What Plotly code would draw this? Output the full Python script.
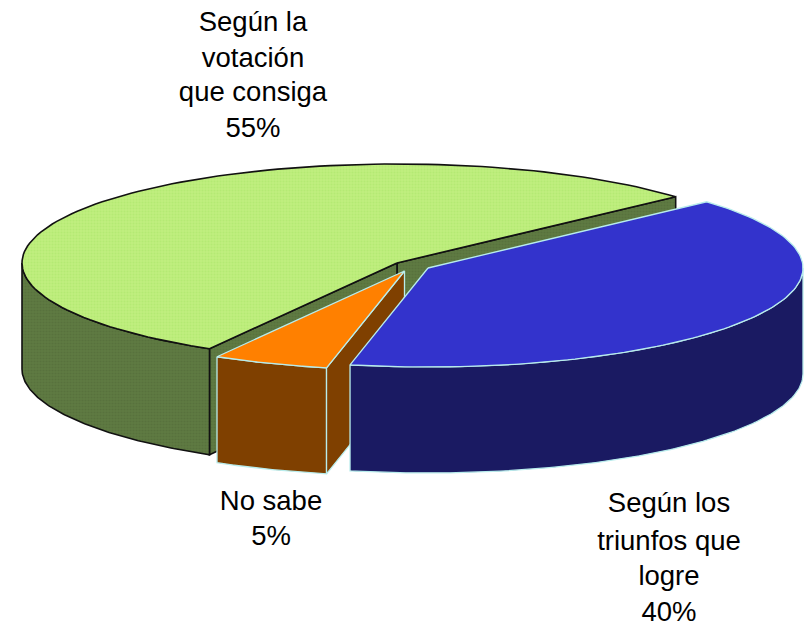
import numpy as np
import plotly.graph_objects as go

categories = ["Según la votación que consiga", "No sabe", "Según los triunfos que logre"]
values = [55, 5, 40]
label_lines = [
    ["Según la", "votación", "que consiga", "55%"],
    ["No sabe", "5%"],
    ["Según los", "triunfos que", "logre", "40%"],
]

# Layout of the drawing (pixel space of the page)
WIDTH, HEIGHT = 804, 623
RX, RY, DEPTH = 375, 99, 106
START_DEG = 42
APEX = [(397, 263), (404.5, 271), (428, 268)]
LABEL_X = [253, 271, 669]
LABEL_Y = [[24, 60, 94, 130], [503, 538], [505, 543, 578, 614]]
TOP = ["#bcec7a", "#ff8000", "#3333cc"]
WALL = ["#5c7640", "#7f4000", "#1a1a62"]
EDGE = ["#111111", "#b8ecec", "#b8ecec"]
EDGE_W = [1.6, 1.3, 1.3]


def rim(c, a0, a1, n=120):
    t = np.radians(np.linspace(a0, a1, n))
    return c[0] + RX * np.cos(t), c[1] - RY * np.sin(t)


fig = go.Figure()


def poly(xs, ys, fill, edge, w, pattern=None):
    kw = {}
    if pattern:
        kw["fillpattern"] = pattern
    fig.add_trace(go.Scatter(
        x=list(xs) + [xs[0]], y=list(ys) + [ys[0]], mode="lines", fill="toself",
        fillcolor=fill, line=dict(color=edge, width=w), hoverinfo="skip",
        showlegend=False, **kw))


def wall_arc(i, a0, a1, pattern=None):
    x, y = rim(APEX[i], a0, a1)
    poly(np.r_[x, x[::-1]], np.r_[y, y[::-1] + DEPTH], WALL[i], EDGE[i], EDGE_W[i], pattern)


def wall_radial(i, a, pattern=None):
    c = APEX[i]
    x, y = rim(c, a, a, 1)
    poly([c[0], x[0], x[0], c[0]], [c[1], y[0], y[0] + DEPTH, c[1] + DEPTH],
         WALL[i], EDGE[i], EDGE_W[i], pattern)


def top(i, a0, a1, pattern=None):
    c = APEX[i]
    x, y = rim(c, a0, a1)
    poly(np.r_[c[0], x], np.r_[c[1], y], TOP[i], EDGE[i], EDGE_W[i], pattern)


edges = START_DEG + np.r_[0, np.cumsum(values)] * 3.6
dark_pat = dict(shape=".", bgcolor="#5f7a42", fgcolor="#506a38", size=3, solidity=0.4)
light_pat = dict(shape=".", bgcolor="#c0ee80", fgcolor="#a8e666", size=3, solidity=0.4)

# green slice
wall_radial(0, edges[0], dark_pat)
wall_radial(0, edges[1], dark_pat)
wall_arc(0, 180, edges[1], dark_pat)
top(0, edges[0], edges[1], light_pat)
# orange slice
wall_arc(1, edges[1], edges[2])
wall_radial(1, edges[2])
top(1, edges[1], edges[2])
# blue slice
wall_arc(2, edges[2], 360)
top(2, edges[2] - 360, edges[0])

for lines, lx, ly in zip(label_lines, LABEL_X, LABEL_Y):
    fig.add_trace(go.Scatter(
        x=[lx] * len(lines), y=ly, text=lines, mode="text", textposition="middle center",
        textfont=dict(family="Liberation Sans", size=27.5, color="#000000"),
        hoverinfo="skip", showlegend=False, cliponaxis=False))

fig.update_layout(
    width=WIDTH, height=HEIGHT, margin=dict(l=0, r=0, t=0, b=0),
    paper_bgcolor="#ffffff", plot_bgcolor="#ffffff",
    xaxis=dict(range=[0, WIDTH], visible=False, fixedrange=True),
    yaxis=dict(range=[HEIGHT, 0], visible=False, fixedrange=True),
)
fig.write_html(
    "out.html",
    config={"displayModeBar": False},
    post_script="document.body.style.margin='0';document.documentElement.style.overflow='hidden';",
)
